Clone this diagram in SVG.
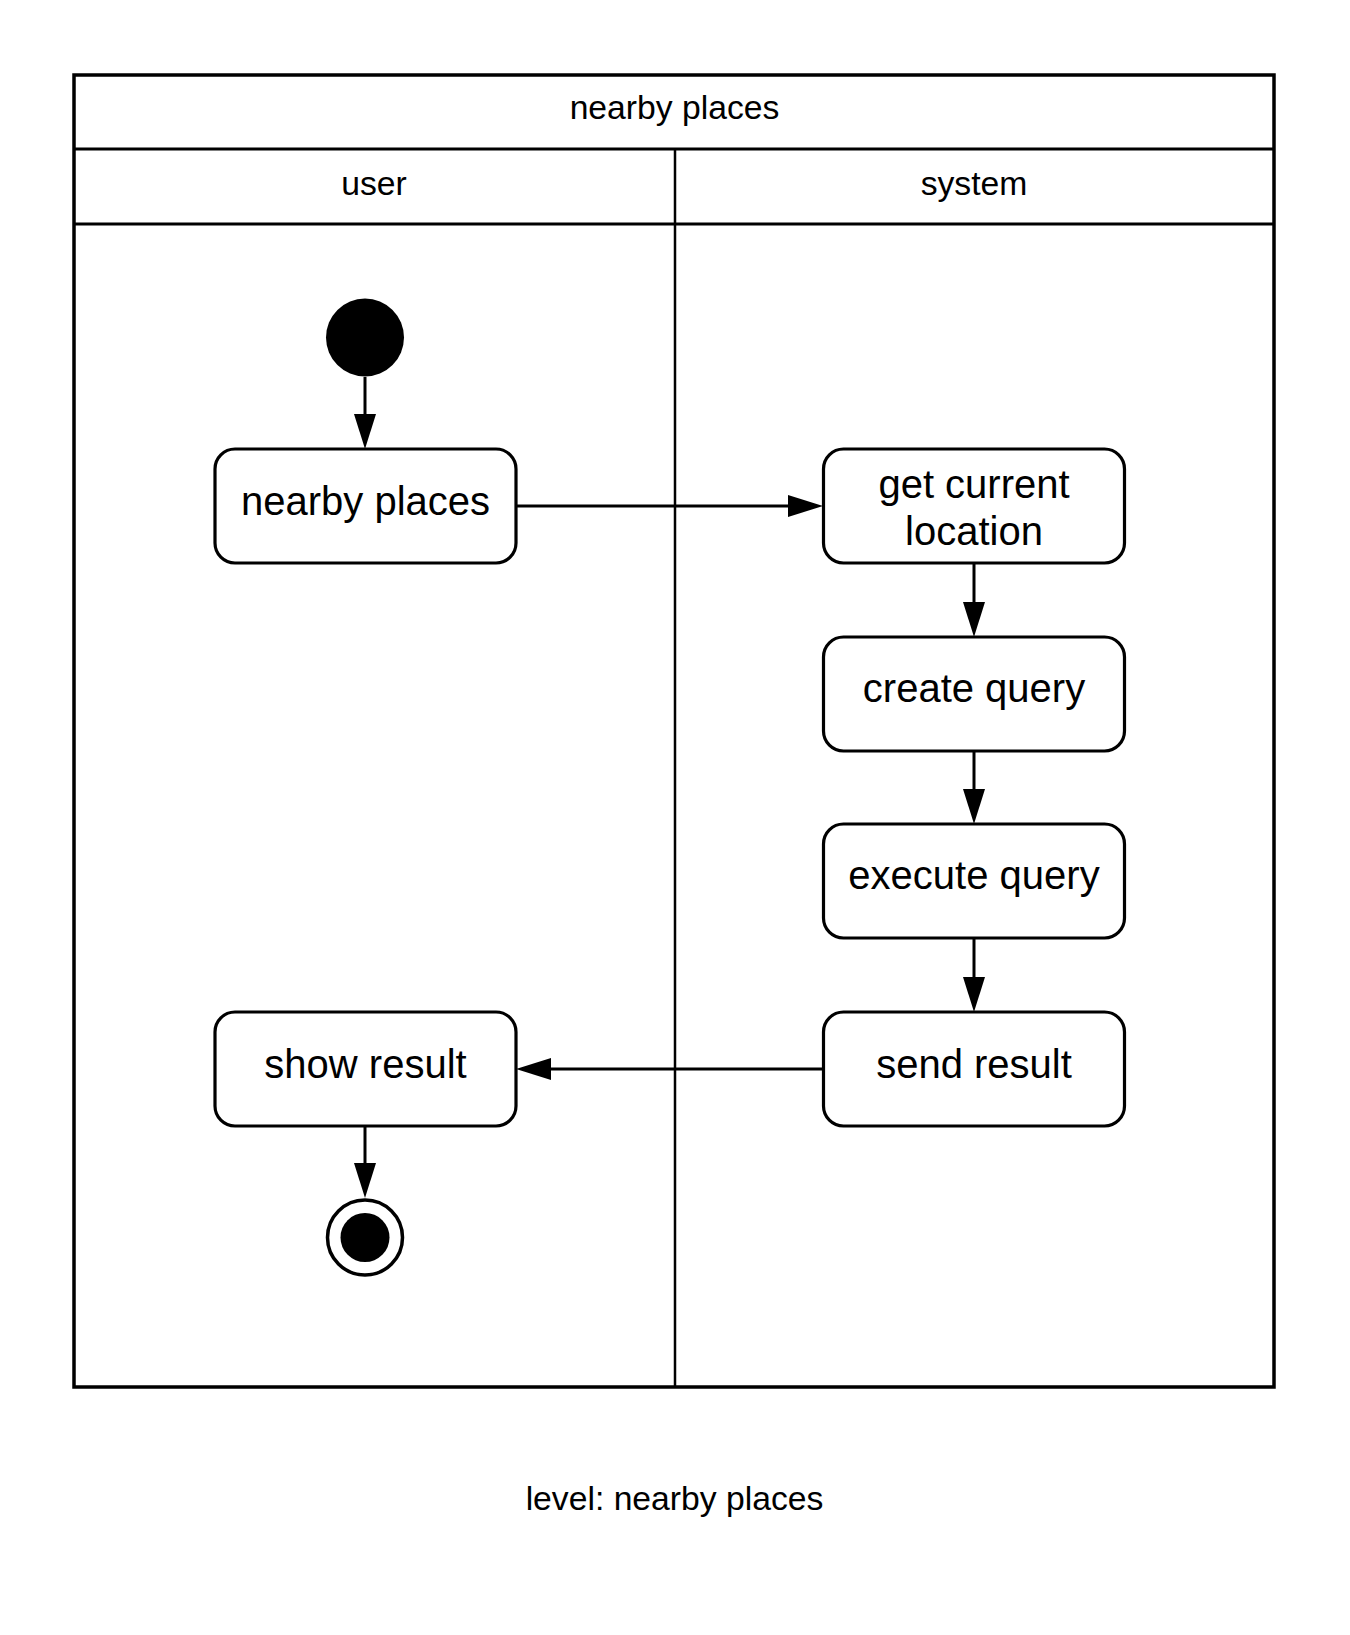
<svg xmlns="http://www.w3.org/2000/svg" width="1350" height="1635" viewBox="0 0 1350 1635">
<style>
  text { font-family: "Liberation Sans", Arial, sans-serif; fill: #000; text-anchor: middle; }
  .hdr { font-size: 33.7px; }
  .lbl { font-size: 40px; }
  .box { fill: #fff; stroke: #000; stroke-width: 3.2; }
  .frame { fill: none; stroke: #000; stroke-width: 3.5; }
  .sep { stroke: #000; stroke-width: 3; }
  .div { stroke: #000; stroke-width: 2.5; }
  .conn { fill: none; stroke: #000; stroke-width: 3; marker-end: url(#arrow); }
</style>
<defs>
  <marker id="arrow" markerUnits="userSpaceOnUse" markerWidth="36" markerHeight="24" viewBox="0 0 36 24" refX="0" refY="12" orient="auto">
    <path d="M0,1 L35,12 L0,23 z" fill="#000"/>
  </marker>
</defs>
<rect width="1350" height="1635" fill="#fff"/>
<g id="pool">
  <rect class="frame" x="74" y="75" width="1200" height="1312"/>
  <line class="sep" x1="74" y1="149" x2="1274" y2="149"/>
  <line class="sep" x1="74" y1="224" x2="1274" y2="224"/>
  <line class="div" x1="675" y1="149" x2="675" y2="1387"/>
  <text class="hdr" x="674.5" y="119">nearby places</text>
  <text class="hdr" x="374" y="195">user</text>
  <text class="hdr" x="974" y="195">system</text>
</g>
<g id="connectors">
  <path class="conn" d="M365,377 L365,414"/>
  <path class="conn" d="M516,506 L788,506"/>
  <path class="conn" d="M974,563 L974,602"/>
  <path class="conn" d="M974,751 L974,789"/>
  <path class="conn" d="M974,938 L974,977"/>
  <path class="conn" d="M824,1069 L551,1069"/>
  <path class="conn" d="M365,1126 L365,1163"/>
</g>
<g id="start">
  <circle cx="365" cy="337.5" r="39" fill="#000"/>
</g>
<g id="node-nearby-places">
  <rect class="box" x="215" y="449" width="301" height="114" rx="20"/>
  <text class="lbl" x="365.5" y="515">nearby places</text>
</g>
<g id="node-get-current-location">
  <rect class="box" x="823.5" y="449" width="301" height="114" rx="20"/>
  <text class="lbl" x="974" y="498">get current</text>
  <text class="lbl" x="974" y="545">location</text>
</g>
<g id="node-create-query">
  <rect class="box" x="823.5" y="637" width="301" height="114" rx="20"/>
  <text class="lbl" x="974" y="702">create query</text>
</g>
<g id="node-execute-query">
  <rect class="box" x="823.5" y="824" width="301" height="114" rx="20"/>
  <text class="lbl" x="974" y="889">execute query</text>
</g>
<g id="node-send-result">
  <rect class="box" x="823.5" y="1012" width="301" height="114" rx="20"/>
  <text class="lbl" x="974" y="1078">send result</text>
</g>
<g id="node-show-result">
  <rect class="box" x="215" y="1012" width="301" height="114" rx="20"/>
  <text class="lbl" x="365.5" y="1078">show result</text>
</g>
<g id="end">
  <circle cx="365" cy="1237.5" r="37.5" fill="#fff" stroke="#000" stroke-width="3.5"/>
  <circle cx="365" cy="1237.5" r="24.5" fill="#000"/>
</g>
<g id="caption">
  <text class="hdr" x="674.5" y="1510">level: nearby places</text>
</g>
</svg>
